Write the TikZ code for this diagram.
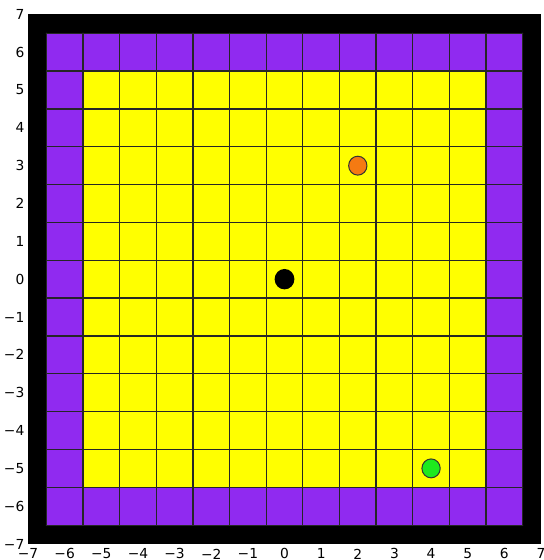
\documentclass[tikz,border=0pt]{standalone}
\usepackage{fontspec}
\setmainfont{DejaVu Sans}
\definecolor{ringpurple}{HTML}{902AF0}
\definecolor{cellyellow}{HTML}{FFFF00}
\definecolor{dotorange}{HTML}{F57A12}
\definecolor{dotgreen}{HTML}{1EEA1E}

\begin{document}
\begin{tikzpicture}[x=18.32pt,y=18.92pt,line cap=round,line join=round,
    gridline/.style={draw=black!85,line width=.65pt},
    dot/.style={draw=black!80,line width=.5pt},
    ticklabel/.style={font=\fontsize{6.9}{8}\selectfont,inner sep=0pt}]
  \useasboundingbox (-7.765,-7.421) rectangle (7.082,7.378);
  % Axes background, then the purple ring and the yellow board.
  \fill[black] (-7,-7) rectangle (7,7);
  \fill[ringpurple] (-6.5,-6.5) rectangle (6.5,6.5);
  \fill[cellyellow] (-5.5,-5.5) rectangle (5.5,5.5);
  \foreach \k in {-6.5,-5.5,...,6.5} {
    \draw[gridline] (\k,-6.5) -- (\k,6.5);
    \draw[gridline] (-6.5,\k) -- (6.5,\k);
  }

  % Markers on the board.
  \fill[black] (0,0) circle (0.27);
  \filldraw[dot,fill=dotorange] (2,3) circle (0.25);
  \filldraw[dot,fill=dotgreen] (4,-5) circle (0.25);

  % Tick labels.
  \foreach \t in {-7,...,7} {
    \node[ticklabel] (xl\t) at (\t,-7.26)
      {\ifnum\t<0 −\number-\t\else\t\fi};
    \node[ticklabel,anchor=east] (yl\t) at (-7.09,\t)
      {\ifnum\t<0 −\number-\t\else\t\fi};
  }
\end{tikzpicture}
\end{document}
